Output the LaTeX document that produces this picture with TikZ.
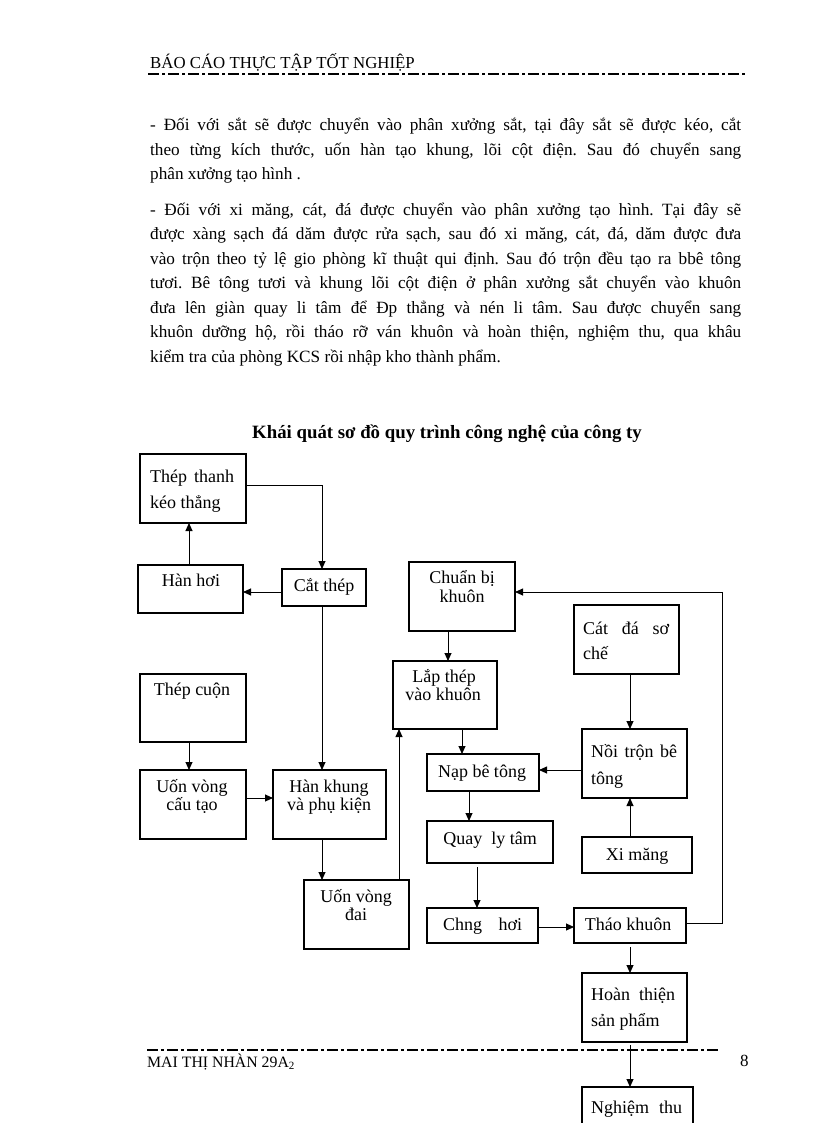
\documentclass[tikz,border=0pt]{standalone}
\usepackage{fontspec}
\setmainfont{Liberation Serif}
\usetikzlibrary{arrows.meta}
\frenchspacing
\begin{document}
\begin{tikzpicture}[x=1pt,y=-1pt,
  box/.style={draw, line width=1.2pt, anchor=north west, inner sep=0pt, outer sep=0pt},
  txt/.style={inner sep=0pt, anchor=mid, yshift=-3pt, font=\fontsize{18}{20}\selectfont},
  txtl/.style={inner sep=0pt, anchor=mid west, yshift=-3pt, font=\fontsize{18}{20}\selectfont},
  body/.style={inner sep=0pt, anchor=base west, font=\fontsize{17.2}{20}\selectfont},
  arr/.style={-{Triangle[length=8pt,width=7pt]}, line width=0.9pt},
  pagerule/.style={line width=2pt, dash pattern=on 11pt off 3pt on 3pt off 3pt}]

\useasboundingbox (0,0) rectangle (816,1123);
\clip (0,0) rectangle (816,1123);

% header and footer
\node[inner sep=0pt, anchor=base west, font=\fontsize{16.8}{18}\selectfont] (head) at (150,69) {BÁO CÁO THỰC TẬP TỐT NGHIỆP};
\coordinate (hl) at (148,74);
\coordinate (hr) at (745,74);
\draw[pagerule] (hl) -- (hr);
\coordinate (fl) at (147,1050);
\coordinate (fr) at (719,1050);
\draw[pagerule] (fl) -- (fr);
\node[inner sep=0pt, anchor=base west, font=\fontsize{15.8}{18}\selectfont] (foot) at (147,1067) {MAI THỊ NHÀN 29A\textsubscript{2}};
\node[inner sep=0pt, anchor=base west, font=\fontsize{17}{18}\selectfont] (pnum) at (740,1066) {8};

% body text
\node[body] (p1) at (150,131) {\makebox[591pt][s]{- Đối với sắt sẽ được chuyển vào phân xưởng sắt, tại đây sắt sẽ được kéo, cắt}};
\node[body] (p2) at (150,155.5) {\makebox[591pt][s]{theo từng kích thước, uốn hàn tạo khung, lõi cột điện. Sau đó chuyển sang}};
\node[body] (p3) at (150,180) {phân xưởng tạo hình .};
\node[body] (q1) at (150,215) {\makebox[591pt][s]{- Đối với xi măng, cát, đá được chuyển vào phân xưởng tạo hình. Tại đây sẽ}};
\node[body] (q2) at (150,239.5) {\makebox[591pt][s]{được xàng sạch đá dăm được rửa sạch, sau đó xi măng, cát, đá, dăm được đưa}};
\node[body] (q3) at (150,264) {\makebox[591pt][s]{vào trộn theo tỷ lệ gio phòng kĩ thuật qui định. Sau đó trộn đều tạo ra bbê tông}};
\node[body] (q4) at (150,288.5) {\makebox[591pt][s]{tươi. Bê tông tươi và khung lõi cột điện ở phân xưởng sắt chuyển vào khuôn}};
\node[body] (q5) at (150,313) {\makebox[591pt][s]{đưa lên giàn quay li tâm để Đp thẳng và nén li tâm. Sau được chuyển sang}};
\node[body] (q6) at (150,337.5) {\makebox[591pt][s]{khuôn dưỡng hộ, rồi tháo rỡ ván khuôn và hoàn thiện, nghiệm thu, qua khâu}};
\node[body] (q7) at (150,362) {kiểm tra của phòng KCS rồi nhập kho thành phẩm.};

% title
\node[inner sep=0pt, anchor=base, font=\bfseries\fontsize{18.8}{20}\selectfont] (title) at (447,438) {Khái quát sơ đồ quy trình công nghệ của công ty};

% boxes
\node[box, minimum width=106pt, minimum height=69pt] (thanh) at (140,454) {};
\node[box, minimum width=105pt, minimum height=48pt] (hanhoi) at (138,565) {};
\node[box, minimum width=84pt, minimum height=37pt] (cat) at (282,569) {};
\node[box, minimum width=106pt, minimum height=68pt] (cuon) at (140,674) {};
\node[box, minimum width=106pt, minimum height=69pt] (uonct) at (140,770) {};
\node[box, minimum width=113pt, minimum height=69pt] (hankhung) at (273,770) {};
\node[box, minimum width=105pt, minimum height=69pt] (uondai) at (304,880) {};
\node[box, minimum width=106pt, minimum height=69pt] (chuanbi) at (409,562) {};
\node[box, minimum width=104pt, minimum height=68pt] (lap) at (393,661) {};
\node[box, minimum width=112pt, minimum height=37pt] (nap) at (427,754) {};
\node[box, minimum width=105pt, minimum height=69pt] (catda) at (574,605) {};
\node[box, minimum width=105pt, minimum height=69pt] (noi) at (582,729) {};
\node[box, minimum width=110pt, minimum height=36pt] (xi) at (582,837) {};
\node[box, minimum width=126pt, minimum height=42pt] (quay) at (427,821) {};
\node[box, minimum width=111pt, minimum height=35pt] (chng) at (427,908) {};
\node[box, minimum width=112pt, minimum height=35pt] (thao) at (574,908) {};
\node[box, minimum width=105pt, minimum height=69pt] (hoan) at (582,973) {};
\node[box, minimum width=111pt, minimum height=80pt] (nghiem) at (582,1087) {};

% box texts
\node[txtl] (t1a) at (150,477) {\makebox[84pt][s]{Thép thanh}};
\node[txtl] (t1b) at (150,503) {kéo thẳng};
\node[txt] (t2) at (191,581) {Hàn hơi};
\node[txt] (t3) at (324,586) {Cắt thép};
\node[txt] (t4) at (192,690) {Thép cuộn};
\node[txt] (t5a) at (192,787) {Uốn vòng};
\node[txt] (t5b) at (192,805) {cấu tạo};
\node[txt] (t6a) at (329,787) {Hàn khung};
\node[txt] (t6b) at (329,805) {và phụ kiện};
\node[txt] (t7a) at (356,897) {Uốn vòng};
\node[txt] (t7b) at (356,915) {đai};
\node[txt] (t8a) at (462,578) {Chuẩn bị};
\node[txt] (t8b) at (462,597) {khuôn};
\node[txt] (t9a) at (444,677) {Lắp thép};
\node[txt] (t9b) at (443,695) {vào khuôn};
\node[txt] (t10) at (482,772) {Nạp bê tông};
\node[txtl] (t11a) at (583,629) {\makebox[86pt][s]{Cát đá sơ}};
\node[txtl] (t11b) at (583,654) {chế};
\node[txtl] (t12a) at (591,752) {\makebox[86pt][s]{Nồi trộn bê}};
\node[txtl] (t12b) at (591,779) {tông};
\node[txt] (t13) at (637,855) {Xi măng};
\node[txt] (t14) at (490,839) {Quay\ \ ly tâm};
\node[txtl] (t15) at (443,925) {\makebox[79pt][s]{Chng hơi}};
\node[txt] (t16) at (628,925) {Tháo khuôn};
\node[txtl] (t17a) at (591,995) {\makebox[84pt][s]{Hoàn thiện}};
\node[txtl] (t17b) at (591,1021) {sản phẩm};
\node[txtl] (t18) at (591,1108) {\makebox[91pt][s]{Nghiệm thu}};

% connectors
\draw[arr] (hanhoi.north -| 189,0) -- (thanh.south -| 189,0);
\draw[arr] (thanh.east |- 0,485) -| (cat.north -| 322,0);
\draw[arr] (cat.west |- 0,592) -- (hanhoi.east |- 0,592);
\draw[arr] (cat.south -| 322,0) -- (hankhung.north -| 322,0);
\draw[arr] (cuon.south -| 189,0) -- (uonct.north -| 189,0);
\draw[arr] (uonct.east |- 0,798) -- (hankhung.west |- 0,798);
\draw[arr] (hankhung.south -| 322,0) -- (uondai.north -| 322,0);
\draw[arr] (uondai.north -| 399,0) -- (lap.south -| 399,0);
\draw[arr] (chuanbi.south -| 448,0) -- (lap.north -| 448,0);
\draw[arr] (lap.south -| 462,0) -- (nap.north -| 462,0);
\draw[arr] (noi.west |- 0,770) -- (nap.east |- 0,770);
\draw[arr] (catda.south -| 630,0) -- (noi.north -| 630,0);
\draw[arr] (xi.north -| 630,0) -- (noi.south -| 630,0);
\draw[arr] (nap.south -| 469,0) -- (quay.north -| 469,0);
\draw[arr] (477,867) -- (chng.north -| 477,0);
\draw[arr] (chng.east |- 0,927) -- (thao.west |- 0,927);
\coordinate (loop) at (722,592);
\draw[arr] (thao.east |- 0,923) -| (loop) -- (chuanbi.east |- 0,592);
\draw[arr] (630,947) -- (hoan.north -| 630,0);
\draw[arr] (630,1045) -- (nghiem.north -| 630,0);
\end{tikzpicture}
\end{document}
